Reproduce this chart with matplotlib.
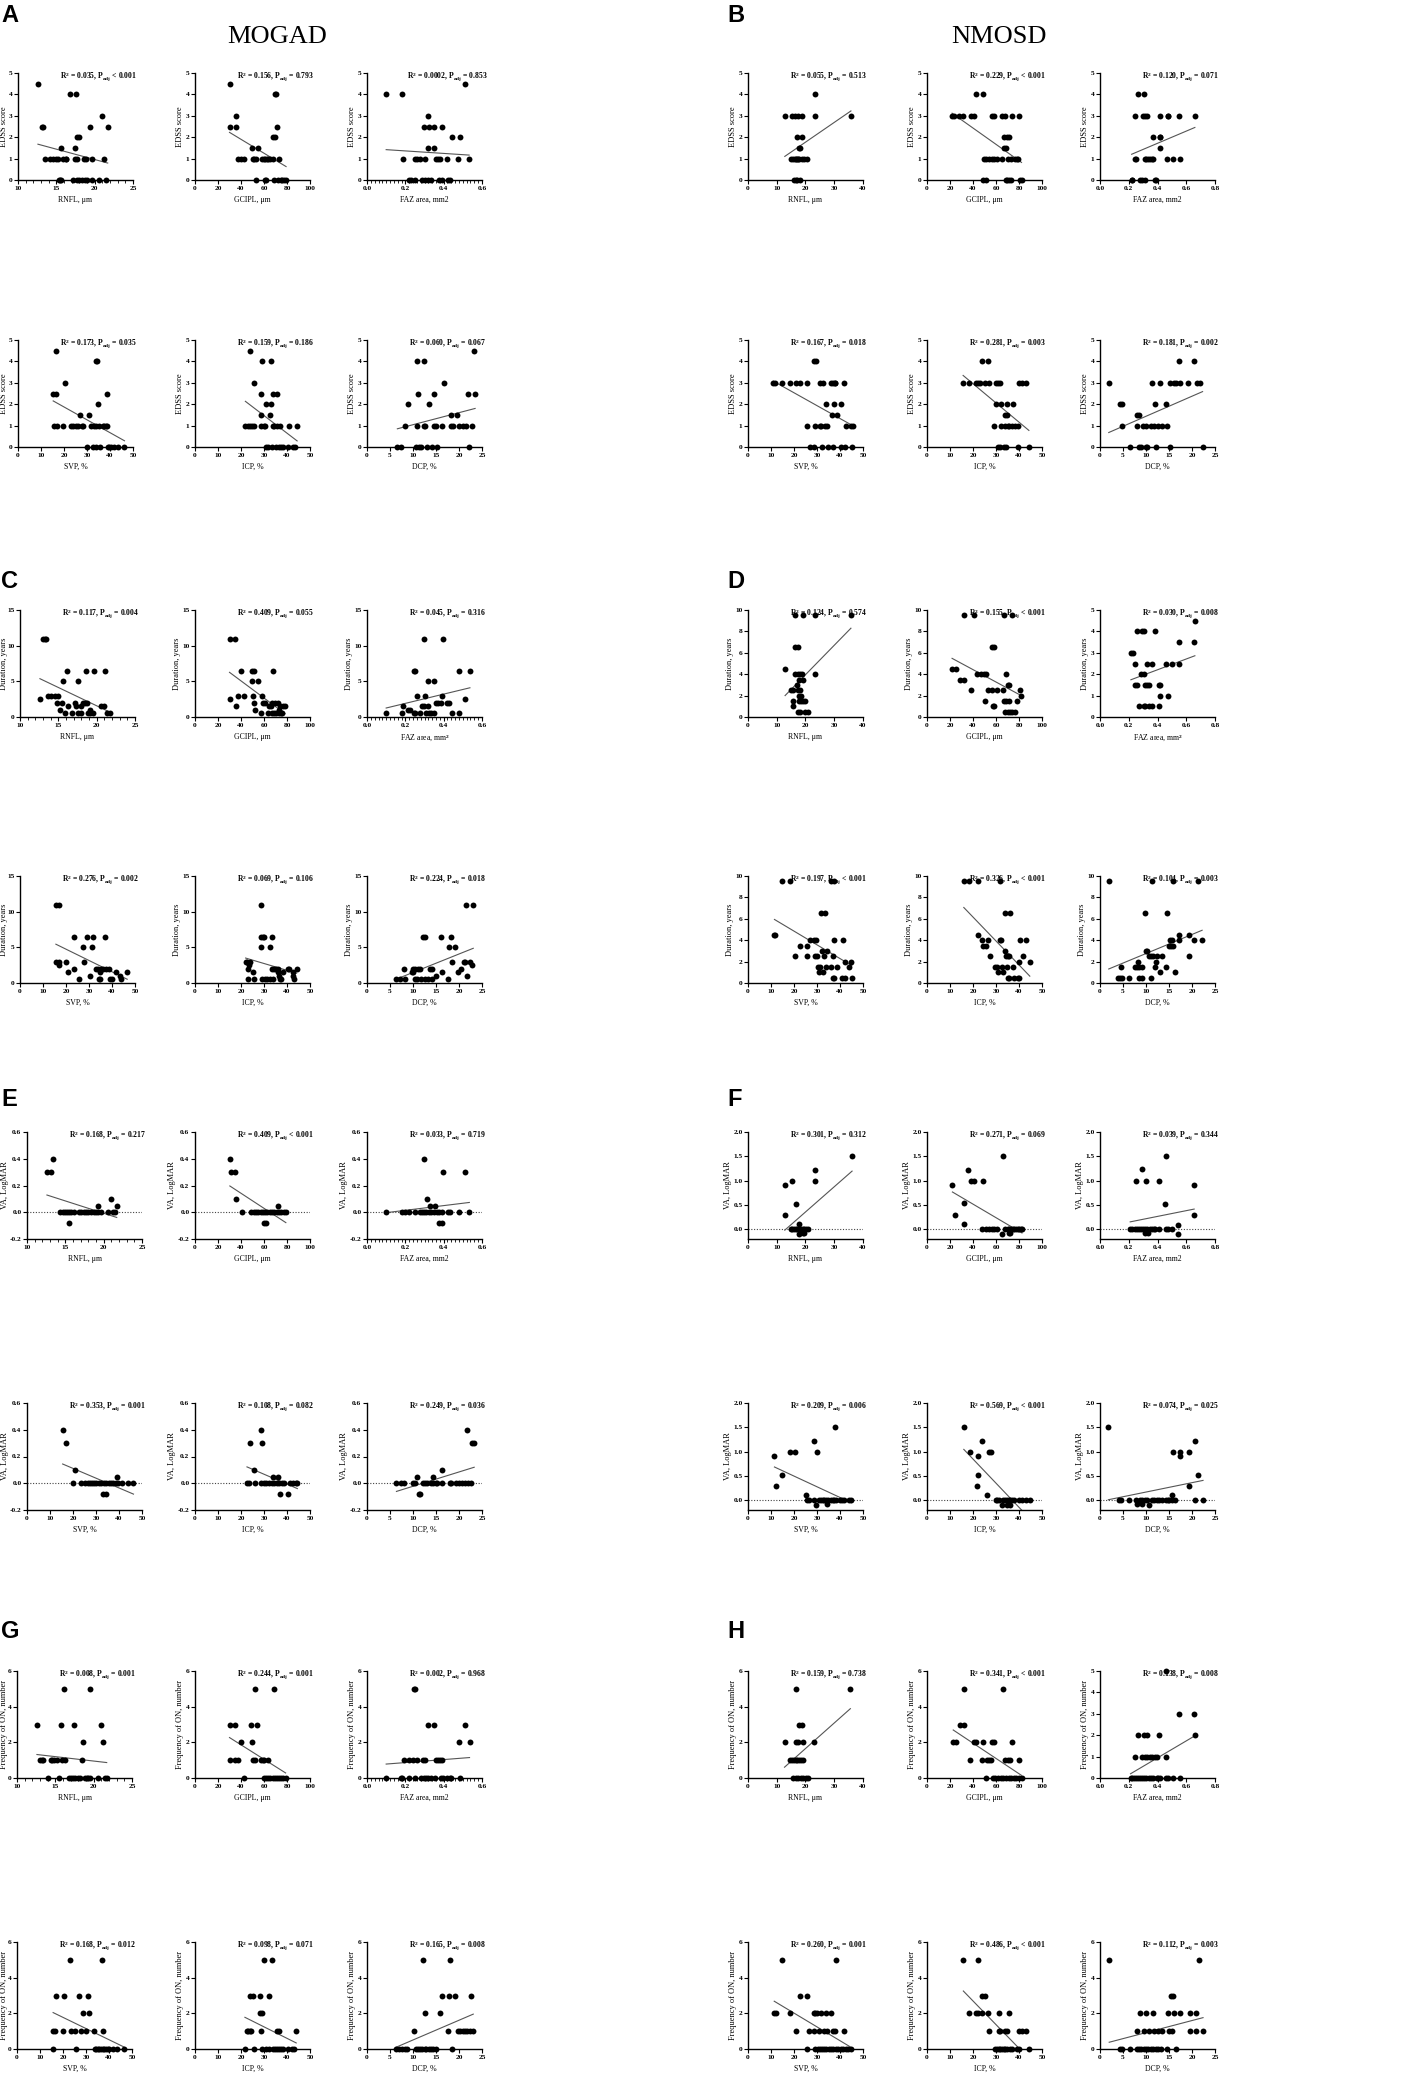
import numpy as np
import matplotlib
matplotlib.use("Agg")
import matplotlib.pyplot as plt
from matplotlib.ticker import MultipleLocator, FormatStrFormatter

plt.rcParams['font.family'] = ['Liberation Serif', 'DejaVu Serif']
plt.rcParams['font.weight'] = 'bold'
plt.rcParams['mathtext.fontset'] = 'custom'
plt.rcParams['mathtext.rm'] = 'Liberation Serif:bold'
plt.rcParams['mathtext.it'] = 'Liberation Serif:bold'
plt.rcParams['mathtext.bf'] = 'Liberation Serif:bold'
plt.rcParams['axes.unicode_minus'] = False

# ---------------- data: (x, y) points ----------------
# A: MOGAD, EDSS score
a_rnfl = [(12.6, 4.5), (13.1, 2.5), (13.3, 2.5), (13.5, 1), (14.2, 1), (14.6, 1), (14.9, 1), (15.2, 1),
          (15.3, 0), (15.5, 0), (15.6, 0), (15.6, 1.5), (15.9, 1), (16.2, 1), (16.3, 1), (16.8, 4),
          (17.2, 0), (17.4, 1.5), (17.4, 1), (17.5, 4), (17.7, 1), (17.7, 2), (17.7, 0), (18.0, 2),
          (18.0, 0), (18.3, 0), (18.6, 1), (18.75, 0), (18.9, 1), (19.0, 0), (19.4, 2.5), (19.6, 1),
          (19.6, 0), (20.5, 0), (21.0, 3), (21.25, 1), (21.5, 0), (21.7, 2.5)]
a_gcipl = [(30.6, 4.5), (30.0, 2.5), (35.6, 2.5), (35.6, 3), (37.5, 1), (40.3, 1), (43.0, 1), (49.4, 1.5),
           (50.0, 1), (51.4, 1), (52.8, 1), (55.0, 1.5), (52.8, 0), (58.3, 1), (59.7, 1), (61.0, 1),
           (62.5, 1), (63.9, 1), (65.3, 1), (68.0, 1), (60.5, 0), (62.0, 0), (68.0, 2), (69.4, 2),
           (69.4, 4), (70.8, 4), (71.7, 2.5), (73.0, 1), (68.9, 0), (72.2, 0), (74.4, 0), (75.8, 0),
           (77.2, 0), (79.2, 0)]
a_faz = [(0.10, 4), (0.18, 4), (0.19, 1), (0.22, 0), (0.227, 0), (0.25, 1), (0.263, 1), (0.275, 1),
         (0.25, 0), (0.287, 0), (0.30, 0), (0.297, 2.5), (0.30, 1), (0.317, 3), (0.317, 1.5), (0.325, 2.5),
         (0.317, 0), (0.333, 0), (0.35, 2.5), (0.35, 1.5), (0.358, 1), (0.37, 1), (0.383, 1), (0.375, 0),
         (0.392, 0), (0.392, 2.5), (0.42, 1), (0.425, 0), (0.433, 0), (0.442, 2), (0.475, 1), (0.483, 2),
         (0.512, 4.5), (0.533, 1)]
a_svp = [(15.3, 2.5), (16.7, 2.5), (16.7, 4.5), (15.8, 1), (16.9, 1), (19.7, 1), (20.4, 3), (23.1, 1),
         (23.8, 1), (25.2, 1), (26.3, 1), (27.7, 1), (28.4, 1), (27.0, 1.5), (30.7, 1.5), (30.0, 0),
         (31.7, 1), (33.0, 1), (33.7, 1), (32.8, 0), (33.7, 0), (33.9, 4), (34.3, 4), (34.6, 2),
         (35.3, 1), (35.8, 0), (36.9, 1), (37.6, 1), (38.3, 1), (38.7, 2.5), (39.0, 0), (39.7, 0),
         (40.4, 0), (41.7, 0), (43.5, 0), (46.3, 0), (38.7, 1)]
a_icp = [(21.9, 1), (22.9, 1), (23.9, 1), (24.7, 1), (25.7, 1), (23.9, 4.5), (25.7, 3), (28.75, 2.5),
         (28.75, 1.5), (29.2, 4), (28.5, 1), (29.9, 1), (30.6, 1), (31.0, 2), (31.0, 0), (31.7, 0),
         (33.0, 4), (33.0, 2), (32.6, 1.5), (34.0, 2.5), (33.7, 1), (34.4, 1), (33.6, 0), (35.8, 2.5),
         (35.8, 1), (36.8, 1), (35.4, 0), (36.4, 0), (37.2, 0), (38.2, 0), (40.3, 0), (41.0, 1),
         (42.8, 0), (43.5, 0), (44.4, 1)]
a_dcp = [(6.6, 0), (7.4, 0), (8.3, 1), (8.9, 2), (10.6, 0), (10.8, 1), (10.8, 4), (11.1, 2.5),
         (11.25, 0), (11.8, 0), (12.4, 4), (12.4, 1), (12.7, 1), (13.05, 0), (13.5, 2), (14.2, 0),
         (14.6, 2.5), (14.6, 1), (15.1, 1), (15.3, 0), (16.7, 3), (16.2, 1), (18.2, 1.5), (18.2, 1),
         (18.75, 1), (19.6, 1.5), (20.1, 1), (20.8, 1), (21.5, 1), (21.9, 2.5), (22.2, 0), (22.8, 1),
         (23.3, 4.5), (23.5, 2.5)]

# B: NMOSD, EDSS score
b_rnfl = [(12.8, 3), (15.2, 3), (16.3, 3), (17.5, 3), (18.7, 3), (14.9, 1), (15.7, 1), (16.3, 1),
          (17.1, 1), (17.8, 1), (18.7, 1), (19.5, 1), (20.4, 1), (16.9, 2), (18.7, 2), (17.8, 1.5),
          (18.1, 1.5), (16.1, 0), (16.7, 0), (17.1, 0), (18.1, 0), (23.3, 4), (23.3, 3), (35.8, 3),
          (16.8, 1), (17.4, 1)]
b_gcipl = [(21.8, 3), (23.9, 3), (27.6, 3), (31.6, 3), (38.2, 3), (41.1, 3), (42.5, 4), (48.3, 4),
           (48.3, 0), (51.7, 0), (49.7, 1), (51.7, 1), (54.0, 1), (56.3, 1), (58.3, 1), (61.2, 1),
           (56.9, 3), (58.3, 3), (65.5, 3), (67.8, 3), (64.9, 1), (67.0, 1.5), (68.4, 1.5), (67.0, 2),
           (69.3, 2), (71.3, 2), (68.4, 0), (69.8, 0), (71.3, 0), (72.7, 0), (70.7, 1), (72.7, 1),
           (76.4, 1), (78.4, 1), (74.1, 3), (79.9, 3), (81.3, 0), (82.2, 0), (79.3, 1)]
b_faz = [(0.24, 3), (0.30, 3), (0.31, 3), (0.33, 3), (0.42, 3), (0.47, 3), (0.475, 3), (0.55, 3),
         (0.66, 3), (0.265, 4), (0.305, 4), (0.37, 2), (0.415, 2), (0.42, 2), (0.42, 1.5), (0.24, 1),
         (0.25, 1), (0.31, 1), (0.32, 1), (0.335, 1), (0.345, 1), (0.36, 1), (0.37, 1), (0.465, 1),
         (0.51, 1), (0.555, 1), (0.22, 0), (0.225, 0), (0.28, 0), (0.295, 0), (0.31, 0), (0.385, 0),
         (0.39, 0)]
b_svp = [(11.0, 3), (11.7, 3), (14.6, 3), (18.3, 3), (20.9, 3), (22.7, 3), (25.6, 3), (31.1, 3),
         (32.6, 3), (36.1, 3), (36.9, 3), (37.7, 3), (38.0, 3), (41.7, 3), (28.5, 4), (29.7, 4),
         (34.0, 2), (37.2, 2), (40.6, 2), (36.5, 1.5), (38.7, 1.5), (25.6, 1), (29.2, 1), (31.1, 1),
         (31.9, 1), (33.6, 1), (34.4, 1), (42.8, 1), (44.9, 1), (45.8, 1), (26.8, 0), (28.5, 0),
         (32.2, 0), (34.6, 0), (37.0, 0), (40.5, 0), (42.1, 0), (45.3, 0)]
b_icp = [(15.7, 3), (18.2, 3), (21.3, 3), (22.1, 3), (23.1, 3), (25.1, 3), (26.9, 3), (29.9, 3),
         (31.0, 3), (31.6, 3), (40.0, 3), (41.5, 3), (43.0, 3), (23.9, 4), (26.6, 4), (29.9, 2),
         (32.1, 2), (34.8, 2), (37.3, 2), (33.9, 1.5), (34.6, 1.5), (29.1, 1), (32.1, 1), (34.0, 1),
         (35.1, 1), (35.8, 1), (36.9, 1), (38.1, 1), (39.6, 1), (31.0, 0), (31.6, 0), (33.6, 0),
         (34.3, 0), (39.6, 0), (44.3, 0)]
b_dcp = [(1.9, 3), (4.3, 2), (4.8, 2), (4.8, 1), (6.6, 0), (8.1, 1.5), (8.4, 1.5), (8.1, 1),
         (8.4, 0), (8.9, 0), (9.4, 1), (10.1, 1), (11.0, 1), (11.7, 1), (12.5, 1), (13.5, 1),
         (9.9, 0), (10.2, 0), (11.3, 3), (12.0, 2), (12.2, 0), (13.1, 3), (14.4, 2), (14.6, 1),
         (15.3, 0), (15.3, 3), (16.0, 3), (16.6, 3), (17.3, 3), (17.1, 4), (19.2, 3), (21.0, 3),
         (21.8, 3), (20.5, 4), (22.3, 0)]

# C: MOGAD, disease duration
c_rnfl = [(12.6, 2.5), (13.0, 11), (13.2, 11), (13.4, 11), (13.6, 3), (14.1, 3), (14.6, 3), (15.0, 3),
          (14.8, 2), (15.2, 1), (15.5, 2), (15.6, 5), (15.9, 0.5), (16.1, 6.5), (16.2, 1.5), (16.8, 0.5),
          (17.2, 2), (17.3, 1.5), (17.5, 5), (17.6, 0.5), (17.9, 0.5), (18.0, 1.5), (18.2, 2), (18.5, 2),
          (18.8, 2), (18.6, 6.5), (18.85, 0.5), (19.1, 0.5), (19.1, 1), (19.5, 0.5), (19.6, 6.5),
          (20.5, 1.5), (20.9, 1.5), (21.1, 6.5), (21.4, 0.5), (21.7, 0.5)]
c_gcipl = [(30.0, 11), (34.7, 11), (30.6, 2.5), (35.6, 1.5), (37.0, 3), (42.5, 3), (40.3, 6.5), (49.2, 6.5),
           (51.4, 6.5), (49.4, 5), (50.0, 3), (51.4, 2), (52.2, 1), (55.0, 5), (57.5, 0.5), (58.3, 3),
           (59.2, 2), (61.1, 2), (63.9, 0.5), (64.7, 1.5), (66.1, 1.5), (68.0, 6.5), (67.2, 2), (69.4, 2),
           (72.2, 2), (66.7, 0.5), (68.9, 0.5), (70.8, 0.5), (73.0, 0.5), (74.4, 0.5), (75.8, 0.5),
           (73.0, 1), (73.6, 1.5), (76.4, 1.5), (78.3, 1.5)]
c_faz = [(0.10, 0.5), (0.18, 0.5), (0.19, 1.5), (0.215, 1), (0.225, 1), (0.245, 6.5), (0.253, 6.5),
         (0.245, 0.5), (0.253, 0.5), (0.26, 3), (0.275, 0.5), (0.287, 1.5), (0.296, 1.5), (0.296, 11),
         (0.30, 3), (0.316, 5), (0.31, 0.5), (0.326, 0.5), (0.335, 0.5), (0.316, 1.5), (0.351, 5),
         (0.351, 0.5), (0.36, 2), (0.372, 2), (0.384, 2), (0.389, 3), (0.394, 11), (0.42, 2), (0.43, 2),
         (0.445, 0.5), (0.478, 6.5), (0.48, 0.5), (0.512, 2.5), (0.537, 6.5)]
c_svp = [(15.6, 11), (16.9, 11), (15.6, 3), (16.9, 3), (16.9, 2.5), (20.0, 3), (20.7, 1.5), (23.4, 6.5),
         (23.6, 2), (25.5, 0.5), (27.3, 5), (28.0, 3), (29.1, 6.5), (30.4, 1), (31.1, 5), (31.7, 6.5),
         (33.2, 2), (33.9, 2), (34.2, 0.5), (34.8, 0.5), (34.8, 1.5), (35.3, 2), (36.0, 2), (36.9, 6.5),
         (37.3, 2), (38.7, 2), (39.0, 0.5), (40.1, 0.5), (41.7, 1.5), (43.4, 1), (43.8, 0.5), (46.6, 1.5)]
c_icp = [(22.0, 3), (22.6, 3), (23.9, 3), (22.9, 2), (23.3, 2.5), (22.9, 0.5), (25.4, 1.5), (25.7, 0.5),
         (28.5, 11), (28.5, 5), (28.5, 6.5), (29.4, 6.5), (30.1, 6.5), (29.2, 0.5), (30.6, 0.5),
         (31.5, 0.5), (32.6, 0.5), (34.0, 0.5), (32.6, 5), (33.3, 6.5), (33.6, 2), (34.4, 2), (35.4, 2),
         (36.1, 2), (36.1, 1.5), (36.4, 1), (36.8, 0.5), (37.5, 0.5), (38.2, 1.5), (40.3, 2), (41.0, 2),
         (42.4, 1.5), (42.8, 1), (43.1, 0.5), (44.2, 2)]
c_dcp = [(6.25, 0.5), (7.2, 0.5), (8.0, 2), (8.3, 0.5), (9.7, 1.5), (10.1, 1.5), (10.1, 2), (10.4, 2),
         (10.4, 0.5), (10.8, 0.5), (11.0, 2), (11.5, 2), (12.2, 6.5), (12.5, 6.5), (11.8, 0.5), (12.5, 0.5),
         (13.2, 0.5), (13.75, 2), (14.1, 2), (14.2, 0.5), (14.9, 1), (16.0, 6.5), (16.3, 1.5), (17.7, 0.5),
         (17.8, 5), (18.2, 6.5), (18.5, 3), (19.2, 5), (19.8, 1.5), (20.5, 2), (21.0, 3), (21.4, 3),
         (21.7, 1), (21.5, 11), (22.4, 3), (22.8, 2.5), (23.1, 11)]

# D: NMOSD, disease duration
d_rnfl = [(12.9, 4.5), (14.9, 2.5), (15.5, 2.5), (15.5, 1.5), (15.8, 1), (16.5, 9.5), (16.5, 4), (17.3, 4),
          (18.1, 4), (16.5, 6.5), (17.3, 6.5), (17.0, 3), (17.3, 2.5), (17.3, 0.5), (18.1, 0.5), (17.7, 3.5),
          (17.9, 2), (18.5, 2), (17.9, 1.5), (18.5, 1.5), (19.1, 1.5), (19.7, 1.5), (18.1, 2.5), (18.9, 4),
          (19.1, 3.5), (19.1, 9.5), (20.0, 0.5), (20.9, 0.5), (23.3, 9.5), (23.3, 4), (35.8, 9.5)]
d_gcipl = [(21.8, 4.5), (24.8, 4.5), (28.4, 3.5), (32.2, 3.5), (32.2, 9.5), (38.2, 2.5), (41.2, 9.5),
           (43.3, 4), (47.2, 4), (49.6, 4), (50.7, 1.5), (51.6, 4), (53.1, 2.5), (56.1, 2.5), (56.1, 6.5),
           (58.2, 6.5), (57.0, 1), (58.5, 1), (61.2, 2.5), (66.0, 2.5), (66.6, 9.5), (66.6, 1.5), (69.0, 1.5),
           (71.0, 1.5), (68.0, 0.5), (70.1, 0.5), (71.9, 0.5), (74.0, 0.5), (76.1, 0.5), (69.0, 4), (70.4, 3),
           (71.0, 3), (74.0, 9.5), (78.5, 1.5), (80.6, 2.5), (82.1, 2)]
d_faz = [(0.215, 3), (0.229, 3), (0.245, 2.5), (0.257, 1.5), (0.24, 1.5), (0.257, 4), (0.273, 0.5),
         (0.287, 2), (0.303, 2), (0.29, 4), (0.303, 4), (0.303, 0.5), (0.31, 0.5), (0.31, 1.5), (0.327, 1.5),
         (0.338, 1.5), (0.327, 2.5), (0.343, 0.5), (0.36, 0.5), (0.36, 2.5), (0.38, 4), (0.408, 0.5),
         (0.413, 1.5), (0.42, 1.5), (0.42, 1), (0.46, 2.5), (0.471, 1), (0.501, 2.5), (0.548, 3.5),
         (0.553, 2.5), (0.653, 3.5), (0.66, 4.5)]
d_svp = [(11.5, 4.5), (11.9, 4.5), (14.9, 9.5), (18.2, 9.5), (20.6, 2.5), (22.7, 3.5), (25.7, 3.5),
         (25.8, 2.5), (26.9, 4), (28.7, 4), (29.6, 4), (29.1, 2.5), (30.1, 2.5), (30.6, 1.5), (31.3, 1.5),
         (31.0, 1), (32.8, 1), (31.8, 6.5), (33.6, 6.5), (32.1, 3), (33.1, 2.5), (34.3, 3), (34.0, 1.5),
         (36.1, 9.5), (37.6, 9.5), (36.1, 1.5), (37.0, 2.5), (37.0, 0.5), (37.3, 0.5), (37.6, 4), (38.5, 1.5),
         (40.7, 0.5), (41.5, 4), (42.1, 2), (42.2, 0.5), (44.0, 1.5), (44.8, 2), (45.1, 0.5)]
d_icp = [(16.0, 9.5), (18.3, 9.5), (22.1, 9.5), (22.1, 4.5), (23.9, 4), (24.4, 3.5), (25.5, 3.5), (26.7, 4),
         (27.4, 2.5), (29.4, 1.5), (30.5, 1.5), (30.8, 1), (31.6, 9.5), (31.6, 4), (32.0, 4), (32.5, 1.5),
         (33.2, 1), (33.8, 6.5), (34.0, 3), (34.3, 2.5), (35.1, 2.5), (35.8, 2.5), (34.6, 1.5), (35.1, 0.5),
         (35.5, 0.5), (36.1, 6.5), (37.3, 1.5), (37.7, 0.5), (39.6, 0.5), (40.1, 0.5), (40.1, 2), (40.4, 4),
         (41.6, 2.5), (43.1, 4), (44.7, 2)]
d_dcp = [(1.9, 9.5), (4.0, 0.5), (4.4, 0.5), (4.7, 0.5), (4.6, 1.5), (6.4, 0.5), (7.6, 1.5), (8.0, 1.5),
         (8.3, 2), (8.5, 1.5), (8.5, 0.5), (9.1, 0.5), (9.2, 1.5), (9.8, 6.5), (10.0, 3), (10.2, 3),
         (10.6, 2.5), (11.1, 2.5), (11.6, 2.5), (11.1, 0.5), (11.3, 9.5), (11.9, 1.5), (12.1, 2), (12.4, 2.5),
         (13.0, 1), (13.4, 2.5), (14.3, 1.5), (14.5, 6.5), (15.1, 3.5), (15.5, 3.5), (15.8, 3.5), (15.2, 4),
         (15.6, 4), (15.8, 9.5), (16.4, 1), (17.1, 4), (17.1, 4.5), (19.4, 4.5), (19.4, 2.5), (20.5, 4),
         (21.2, 9.5), (22.2, 4)]

# E: MOGAD, visual acuity
e_rnfl = [(12.6, 0.3), (13.1, 0.3), (13.4, 0.4), (14.35, 0), (14.7, 0), (14.9, 0), (15.2, 0), (15.5, 0),
          (15.8, 0), (16.1, 0), (15.5, -0.08), (16.8, 0), (17.1, 0), (17.4, 0), (17.7, 0), (18.0, 0),
          (18.3, 0), (18.7, 0), (19.0, 0), (19.3, 0), (19.6, 0), (19.3, 0.05), (20.5, 0), (21.0, 0.1),
          (21.2, 0), (21.5, 0), (21.7, 0.05)]
e_gcipl = [(30.3, 0.4), (30.9, 0.3), (34.7, 0.3), (35.6, 0.1), (40.7, 0), (49, 0), (51, 0), (53, 0),
           (55, 0), (57, 0), (59, 0), (61, 0), (63, 0), (65, 0), (67, 0), (69, 0), (71, 0), (73, 0),
           (75, 0), (77, 0), (79, 0), (59.9, -0.08), (61.4, -0.08), (71.8, 0.05)]
e_faz = [(0.10, 0), (0.18, 0), (0.196, 0), (0.22, 0), (0.25, 0), (0.274, 0), (0.285, 0), (0.297, 0),
         (0.31, 0), (0.324, 0), (0.336, 0), (0.35, 0), (0.363, 0), (0.377, 0), (0.39, 0), (0.297, 0.4),
         (0.315, 0.1), (0.328, 0.05), (0.354, 0.05), (0.377, -0.08), (0.392, -0.08), (0.395, 0.3),
         (0.422, 0), (0.434, 0), (0.48, 0), (0.511, 0.3), (0.534, 0)]
e_svp = [(15.5, 0.4), (16.9, 0.3), (19.9, 0), (20.7, 0.1), (23.5, 0), (25.4, 0), (26.4, 0), (27.3, 0),
         (28.3, 0), (29.3, 0), (30.2, 0), (31.2, 0), (32.3, 0), (33.4, 0), (34.5, 0), (35.6, 0), (36.6, 0),
         (37.5, 0), (38.6, 0), (39.6, 0), (41.5, 0), (43.7, 0), (46.3, 0), (33.1, -0.08), (34.2, -0.08),
         (39.0, 0.05)]
e_icp = [(22.6, 0), (23.6, 0), (26.0, 0), (24.0, 0.3), (25.5, 0.1), (28.9, 0.4), (29.2, 0.3), (28.5, 0),
         (30.0, 0), (31.0, 0), (32.2, 0), (33.4, 0), (34.4, 0), (35.5, 0), (36.6, 0), (37.8, 0), (38.9, 0),
         (34.0, 0.05), (35.9, 0.05), (37.0, -0.08), (40.4, -0.08), (41.1, 0), (42.6, 0), (43.8, 0), (44.5, 0)]
e_dcp = [(6.4, 0), (7.35, 0), (8.1, 0), (9.9, 0), (10.4, 0), (10.9, 0.05), (11.2, -0.08), (11.6, -0.08),
         (12.1, 0), (12.5, 0), (13.0, 0), (14.0, 0), (14.3, 0), (14.9, 0), (15.3, 0), (14.3, 0.05), (16.2, 0),
         (16.4, 0.1), (18.0, 0), (18.2, 0), (19.3, 0), (20.1, 0), (20.6, 0), (21.2, 0), (21.9, 0), (22.6, 0),
         (21.7, 0.4), (22.8, 0.3), (23.3, 0.3)]

# F: NMOSD, visual acuity
f_rnfl = [(12.8, 0.3), (12.8, 0.92), (15.4, 1.0), (16.6, 0.52), (14.8, 0), (15.4, 0), (16.0, 0), (16.6, 0),
          (17.2, 0), (17.8, 0), (18.4, 0), (19.0, 0), (19.6, 0), (20.2, 0), (20.8, 0), (17.8, 0.1),
          (17.8, -0.1), (19.0, -0.08), (19.6, -0.08), (23.4, 1.22), (23.4, 1.0), (36.2, 1.5)]
f_gcipl = [(22.1, 0.92), (24.4, 0.3), (31.8, 0.1), (32.4, 0.53), (35.3, 1.22), (38.2, 1.0), (41.2, 1.0),
           (48.8, 1.0), (47.9, 0), (51.5, 0), (53.8, 0), (56.2, 0), (58.2, 0), (61.2, 0), (65.6, -0.1),
           (66.2, 1.5), (68.0, 0), (70.0, 0), (71.5, 0), (72.9, 0), (74.4, 0), (75.9, 0), (77.4, 0),
           (78.8, 0), (80.3, 0), (81.8, 0), (82.6, 0), (70.9, -0.08), (72.4, -0.08)]
f_faz = [(0.21, 0), (0.225, 0), (0.24, 0), (0.255, 0), (0.27, 0), (0.285, 0), (0.30, 0), (0.315, 0),
         (0.33, 0), (0.345, 0), (0.36, 0), (0.375, 0), (0.385, 0), (0.253, 1.0), (0.292, 1.23), (0.32, 1.0),
         (0.316, -0.08), (0.335, -0.08), (0.41, 1.0), (0.41, 0), (0.45, 0.52), (0.456, 1.5), (0.46, 0),
         (0.475, 0), (0.50, 0), (0.545, 0.09), (0.545, -0.1), (0.655, 0.3), (0.655, 0.92)]
f_svp = [(11.5, 0.92), (12.1, 0.3), (14.7, 0.52), (18.1, 1.0), (20.6, 1.0), (25.4, 0.1), (25.7, 0),
         (26.5, 0), (28.7, 0), (30.9, 0), (31.6, 0), (32.4, 0), (33.1, 0), (33.8, 0), (34.6, 0), (36.0, 0),
         (36.8, 0), (37.5, 0), (38.2, 0), (40.1, 0), (40.9, 0), (41.9, 0), (44.1, 0), (44.9, 0), (28.7, 1.22),
         (29.9, 1.0), (29.6, -0.1), (34.3, -0.08), (37.9, 1.5)]
f_icp = [(16.0, 1.5), (18.5, 1.0), (22.3, 0.92), (22.2, 0.52), (21.9, 0.3), (24.1, 1.22), (25.9, 0.1),
         (26.9, 1.0), (27.7, 1.0), (29.9, 0), (30.6, 0), (31.5, 0), (33.0, 0), (34.0, 0), (34.8, 0),
         (35.5, 0), (36.2, 0), (37.0, 0), (37.7, 0), (39.9, 0), (41.4, 0), (42.9, 0), (44.8, 0),
         (32.5, -0.1), (34.8, -0.1), (35.9, -0.1)]
f_dcp = [(1.8, 1.5), (4.2, 0), (4.6, 0), (6.4, 0), (7.9, 0), (8.6, 0), (9.1, 0), (9.7, 0), (10.3, 0),
         (8.0, -0.08), (9.2, -0.08), (10.7, -0.1), (11.2, 0), (11.8, 0), (12.3, 0), (12.8, 0), (13.4, 0),
         (14.3, 0), (14.7, 0), (15.1, 0), (15.6, 0), (16.4, 0), (15.6, 0.1), (15.9, 1.0), (17.3, 1.0),
         (17.3, 0.92), (19.3, 1.0), (19.3, 0.3), (20.6, 1.22), (20.6, 0), (21.4, 0.52), (22.4, 0)]

# G: MOGAD, frequency of ON
g_rnfl = [(12.6, 3), (13.0, 1), (13.2, 1), (13.4, 1), (14.1, 0), (14.4, 1), (14.6, 1), (14.8, 1),
          (15.2, 1), (15.5, 0), (15.7, 3), (15.9, 1), (16.2, 1), (16.1, 5), (16.8, 0), (17.1, 0),
          (17.3, 0), (17.6, 0), (17.9, 0), (18.2, 0), (17.4, 3), (18.6, 2), (18.5, 1), (18.9, 0),
          (19.1, 0), (19.3, 0), (19.5, 0), (19.5, 5), (20.5, 0), (21.0, 3), (21.2, 2), (21.45, 0), (21.7, 0)]
g_gcipl = [(30.0, 3), (30.0, 1), (34.8, 3), (34.8, 1), (37.1, 1), (40.0, 2), (42.5, 0), (49.0, 3),
           (49.6, 2), (50.4, 1), (51.8, 1), (51.8, 5), (54.1, 3), (57.5, 1), (58.9, 1), (60.3, 1),
           (59.8, 0), (61.8, 0), (63.2, 0), (65.4, 0), (67.4, 0), (69.4, 0), (71.1, 0), (73.1, 0),
           (75.1, 0), (76.8, 0), (78.8, 0), (63.7, 1), (68.3, 5)]
g_faz = [(0.10, 0), (0.175, 0), (0.183, 0), (0.195, 1), (0.218, 0), (0.221, 1), (0.238, 1), (0.26, 1),
         (0.243, 5), (0.252, 5), (0.252, 0), (0.29, 1), (0.30, 1), (0.283, 0), (0.295, 0), (0.307, 0),
         (0.32, 0), (0.334, 0), (0.317, 3), (0.351, 3), (0.355, 0), (0.358, 1), (0.369, 1), (0.381, 1),
         (0.389, 1), (0.386, 0), (0.398, 0), (0.42, 0), (0.432, 0), (0.44, 0), (0.478, 2), (0.483, 0),
         (0.509, 3), (0.535, 2)]
g_svp = [(15.7, 0), (15.7, 1), (16.7, 1), (17.0, 3), (19.8, 1), (20.5, 3), (23.1, 5), (23.4, 1),
         (25.2, 1), (25.6, 0), (26.9, 3), (27.8, 1), (28.8, 2), (30.2, 1), (30.9, 3), (31.3, 2), (33.3, 1),
         (33.7, 0), (34.4, 0), (35.1, 0), (35.8, 0), (36.5, 0), (37.3, 0), (38.0, 0), (38.7, 0), (39.4, 0),
         (40.1, 0), (41.8, 0), (43.6, 0), (46.5, 0), (36.8, 5), (37.5, 1)]
g_icp = [(21.7, 0), (22.4, 1), (23.1, 1), (23.8, 1), (24.5, 1), (23.8, 3), (25.2, 3), (25.6, 0),
         (28.3, 3), (28.3, 2), (29.0, 2), (28.5, 1), (29.2, 0), (30.9, 0), (32.3, 0), (33.7, 0), (34.7, 0),
         (35.6, 0), (36.5, 0), (37.5, 0), (38.4, 0), (40.4, 0), (42.2, 0), (42.9, 0), (30.2, 5), (32.3, 3),
         (33.4, 5), (35.8, 1), (36.5, 1), (44.0, 1)]
g_dcp = [(6.3, 0), (7.0, 0), (7.7, 0), (8.2, 0), (8.7, 0), (10.2, 1), (10.6, 0), (11.1, 0), (11.5, 0),
         (12.0, 0), (12.5, 0), (12.9, 0), (13.4, 0), (13.9, 0), (14.4, 0), (15.0, 0), (12.1, 5), (12.5, 2),
         (15.8, 2), (16.4, 3), (17.7, 1), (17.8, 3), (18.1, 5), (18.5, 0), (19.2, 3), (19.7, 1), (20.2, 1),
         (20.8, 1), (21.3, 1), (21.8, 1), (22.3, 1), (23.1, 1), (22.7, 3)]

# H: NMOSD, frequency of ON
h_rnfl = [(12.7, 2), (14.7, 1), (15.3, 1), (15.9, 1), (16.6, 1), (17.2, 1), (17.8, 1), (18.4, 1),
          (19.0, 1), (16.6, 5), (16.6, 2), (17.4, 2), (17.8, 3), (18.9, 3), (19.0, 2), (15.7, 0),
          (16.6, 0), (17.4, 0), (18.3, 0), (19.0, 0), (20.2, 0), (20.8, 0), (23.1, 2), (35.6, 5)]
h_gcipl = [(22.8, 2), (24.9, 2), (28.8, 3), (31.8, 3), (32.6, 5), (37.7, 1), (40.7, 2), (43.0, 2),
           (48.1, 1), (48.7, 2), (51.0, 0), (51.9, 1), (54.0, 1), (55.5, 1), (56.4, 2), (57.9, 2),
           (57.0, 0), (59.0, 0), (61.4, 0), (64.4, 0), (66.5, 0), (68.8, 0), (71.2, 0), (73.3, 0),
           (75.4, 0), (77.7, 0), (80.1, 0), (82.2, 0), (66.5, 5), (68.2, 1), (70.3, 1), (71.8, 1),
           (74.2, 2), (80.1, 1)]
h_faz = [(0.2125, 0), (0.225, 0), (0.2375, 0), (0.25, 0), (0.2625, 0), (0.275, 0), (0.2925, 0),
         (0.305, 0), (0.32, 0), (0.3375, 0), (0.355, 0), (0.37, 0), (0.395, 0), (0.405, 0), (0.42, 0),
         (0.4625, 0), (0.475, 0), (0.5075, 0), (0.5575, 0), (0.245, 1), (0.2625, 2), (0.295, 1),
         (0.3125, 1), (0.325, 1), (0.345, 1), (0.3625, 1), (0.38, 1), (0.395, 1), (0.305, 2), (0.325, 2),
         (0.4125, 2), (0.4625, 5), (0.4625, 1), (0.55, 3), (0.655, 3), (0.6625, 2)]
h_svp = [(11.4, 2), (12.2, 2), (14.8, 5), (18.4, 2), (20.8, 1), (22.8, 3), (25.8, 3), (25.8, 0),
         (26.7, 1), (28.5, 2), (29.2, 2), (30.0, 2), (28.8, 1), (29.2, 0), (30.3, 0), (31.2, 0), (32.2, 0),
         (33.2, 0), (34.1, 0), (35.2, 0), (36.2, 0), (37.1, 0), (38.1, 0), (39.2, 0), (40.4, 0), (41.5, 0),
         (42.6, 0), (43.6, 0), (44.8, 0), (30.7, 1), (31.8, 2), (34.1, 2), (36.2, 2), (33.2, 1), (34.4, 1),
         (37.1, 1), (37.7, 1), (38.1, 5), (41.8, 1)]
h_icp = [(15.8, 5), (18.2, 2), (22.0, 5), (21.5, 2), (22.3, 2), (23.8, 3), (25.3, 3), (23.8, 2),
         (26.5, 2), (27.1, 1), (29.5, 0), (30.3, 0), (31.1, 0), (31.8, 0), (32.6, 0), (33.3, 0), (34.1, 0),
         (34.8, 0), (35.9, 0), (37.0, 0), (39.2, 0), (40.0, 0), (44.2, 0), (31.4, 2), (31.1, 1), (31.8, 1),
         (34.1, 1), (34.8, 1), (35.5, 2), (40.0, 1), (41.5, 1), (43.0, 1)]
h_dcp = [(2.0, 5), (4.4, 0), (4.8, 0), (6.5, 0), (8.0, 1), (8.0, 0), (8.4, 0), (9.0, 0), (9.5, 0),
         (10.0, 0), (10.4, 0), (11.0, 0), (11.5, 0), (12.1, 0), (12.7, 0), (13.2, 0), (14.6, 0), (16.6, 0),
         (8.7, 2), (9.5, 1), (10.0, 2), (10.7, 1), (11.5, 2), (11.7, 1), (12.5, 1), (13.4, 1), (14.7, 2),
         (15.1, 1), (15.7, 1), (15.4, 3), (15.8, 3), (16.0, 2), (17.3, 2), (19.6, 2), (20.8, 2), (19.6, 1),
         (20.8, 1), (21.6, 5), (22.4, 1)]

# R^2 and adjusted P printed on each plot (RNFL, GCIPL, FAZ, SVP, ICP, DCP)
a_stats = [('0.035', '<', '0.001'), ('0.156', '=', '0.793'), ('0.0002', '=', '0.853'),
           ('0.173', '=', '0.035'), ('0.159', '=', '0.186'), ('0.060', '=', '0.067')]
b_stats = [('0.055', '=', '0.513'), ('0.229', '<', '0.001'), ('0.120', '=', '0.071'),
           ('0.167', '=', '0.018'), ('0.281', '=', '0.003'), ('0.181', '=', '0.002')]
c_stats = [('0.117', '=', '0.004'), ('0.409', '=', '0.055'), ('0.045', '=', '0.316'),
           ('0.276', '=', '0.002'), ('0.069', '=', '0.106'), ('0.224', '=', '0.018')]
d_stats = [('0.124', '=', '0.574'), ('0.155', '<', '0.001'), ('0.030', '=', '0.008'),
           ('0.197', '<', '0.001'), ('0.326', '<', '0.001'), ('0.104', '=', '0.003')]
e_stats = [('0.168', '=', '0.217'), ('0.409', '<', '0.001'), ('0.033', '=', '0.719'),
           ('0.353', '=', '0.001'), ('0.108', '=', '0.082'), ('0.249', '=', '0.036')]
f_stats = [('0.301', '=', '0.312'), ('0.271', '=', '0.069'), ('0.039', '=', '0.344'),
           ('0.209', '=', '0.006'), ('0.569', '<', '0.001'), ('0.074', '=', '0.025')]
g_stats = [('0.008', '=', '0.001'), ('0.244', '=', '0.001'), ('0.002', '=', '0.968'),
           ('0.168', '=', '0.012'), ('0.098', '=', '0.071'), ('0.165', '=', '0.008')]
h_stats = [('0.159', '=', '0.738'), ('0.341', '<', '0.001'), ('0.138', '=', '0.008'),
           ('0.260', '=', '0.001'), ('0.486', '<', '0.001'), ('0.112', '=', '0.003')]

x_labels = ['RNFL, μm', 'GCIPL, μm', 'FAZ area, mm2', 'SVP, %', 'ICP, %', 'DCP, %']
# x axis: (min, max, major step, minor step)
x_axes_mogad = [(10, 25, 5, 1), (0, 100, 20, None), (0, 0.6, 0.2, 0.02),
                (0, 50, 10, None), (0, 50, 10, None), (0, 25, 5, None)]
x_axes_nmosd = [(0, 40, 10, None), (0, 100, 20, None), (0, 0.8, 0.2, None),
                (0, 50, 10, None), (0, 50, 10, None), (0, 25, 5, None)]

# y axis: (ylabel, ylim, ticks, format)
edss_y = ('EDSS score', (0, 5), [0, 1, 2, 3, 4, 5], '%g')
dur_m_y = ('Duration, years', (0, 15), [0, 5, 10, 15], '%g')
dur_n_y = ('Duration, years', (0, 10), [0, 2, 4, 6, 8, 10], '%g')
dur_n_faz_y = ('Duration, years', (0, 5), [0, 1, 2, 3, 4, 5], '%g')
va_m_y = ('VA, LogMAR', (-0.2, 0.6), [-0.2, 0.0, 0.2, 0.4, 0.6], '%.1f')
va_n_y = ('VA, LogMAR', (-0.2, 2.0), [0.0, 0.5, 1.0, 1.5, 2.0], '%.1f')
freq_y = ('Frequency of ON, number', (0, 6), [0, 2, 4, 6], '%g')
freq_n_faz_y = ('Frequency of ON, number', (0, 5), [0, 1, 2, 3, 4, 5], '%g')

# ---------------- layout (pixels of the 1418 x 2079 canvas) ----------------
W, H = 1418, 2079
first_col_left = [18, 20, 27, 17]          # left panels, first column, per block
col_left = {'L': [None, 195, 367], 'R': [748, 927, 1100]}
col_w = {'L': 115, 'R': 115}
row_top = [73, 340, 610, 876, 1132, 1403, 1671, 1942]
ax_h = 107
letter_y = [16, 582, 1099, 1631]
letter_x = {'L': 1, 'R': 727}

panels = [
    ('A', 'L', 0, [a_rnfl, a_gcipl, a_faz, a_svp, a_icp, a_dcp], a_stats, [edss_y] * 6, False),
    ('B', 'R', 0, [b_rnfl, b_gcipl, b_faz, b_svp, b_icp, b_dcp], b_stats, [edss_y] * 6, False),
    ('C', 'L', 1, [c_rnfl, c_gcipl, c_faz, c_svp, c_icp, c_dcp], c_stats, [dur_m_y] * 6, False),
    ('D', 'R', 1, [d_rnfl, d_gcipl, d_faz, d_svp, d_icp, d_dcp], d_stats,
     [dur_n_y, dur_n_y, dur_n_faz_y, dur_n_y, dur_n_y, dur_n_y], False),
    ('E', 'L', 2, [e_rnfl, e_gcipl, e_faz, e_svp, e_icp, e_dcp], e_stats, [va_m_y] * 6, True),
    ('F', 'R', 2, [f_rnfl, f_gcipl, f_faz, f_svp, f_icp, f_dcp], f_stats, [va_n_y] * 6, True),
    ('G', 'L', 3, [g_rnfl, g_gcipl, g_faz, g_svp, g_icp, g_dcp], g_stats, [freq_y] * 6, False),
    ('H', 'R', 3, [h_rnfl, h_gcipl, h_faz, h_svp, h_icp, h_dcp], h_stats,
     [freq_y, freq_y, freq_n_faz_y, freq_y, freq_y, freq_y], False),
]

fig = plt.figure(figsize=(W / 100, H / 100), dpi=100)

for letter, side, block, datasets, stats, ycfgs, zero_line in panels:
    fig.text(letter_x[side] / W, 1 - letter_y[block] / H, letter, ha='left', va='center',
             fontsize=17, family='Liberation Sans', weight='bold')
    xcfgs = x_axes_mogad if side == 'L' else x_axes_nmosd
    for i in range(6):
        r, c = divmod(i, 3)
        top = row_top[2 * block + r]
        left = col_left[side][c]
        if left is None:
            left = first_col_left[block]
        ax = fig.add_axes([left / W, 1 - (top + ax_h) / H, col_w[side] / W, ax_h / H])
        x, y = np.array(datasets[i], dtype=float).T
        xmin, xmax, xstep, xminor = xcfgs[i]
        ylabel, ylim, yticks, yfmt = ycfgs[i]

        if zero_line:
            ax.axhline(0, color='#444444', lw=0.8, ls=(0, (1, 1.5)), zorder=1)
        k, b = np.polyfit(x, y, 1)
        xs = np.array([x.min(), x.max()])
        ax.plot(xs, k * xs + b, color='#555555', lw=0.8, zorder=2)
        ax.scatter(x, y, s=18, color='black', linewidths=0, zorder=3, clip_on=False)

        ax.set_xlim(xmin, xmax)
        ax.set_ylim(*ylim)
        ax.xaxis.set_major_locator(MultipleLocator(xstep))
        if xminor:
            ax.xaxis.set_minor_locator(MultipleLocator(xminor))
        ax.xaxis.set_major_formatter(FormatStrFormatter('%.1f' if xstep < 1 else '%g'))
        ax.set_yticks(yticks)
        ax.yaxis.set_major_formatter(FormatStrFormatter(yfmt))

        for s in ['top', 'right']:
            ax.spines[s].set_visible(False)
        for s in ['left', 'bottom']:
            ax.spines[s].set_linewidth(1.0)
        ax.tick_params(which='major', direction='out', length=3, width=0.8, labelsize=5.3, pad=1)
        ax.tick_params(which='minor', direction='out', length=1.8, width=0.6)

        xl = x_labels[i]
        if i == 2 and letter in ('C', 'D'):
            xl = 'FAZ area, mm$^2$'
        ax.set_xlabel(xl, fontsize=5.6, labelpad=4)
        ax.set_ylabel(ylabel, fontsize=6, labelpad=1)
        if side == 'L' and c == 0:
            # keep the first-column label inside the canvas, right edge ~8.5 px from the border
            ax.yaxis.set_label_coords((8.5 - left) / col_w[side], 0.5)

        r2, rel, p = stats[i]
        ax.text(0.7, 0.97, f'R$^2$ = {r2}, P$_{{adj}}$ {rel} {p}', transform=ax.transAxes,
                ha='center', va='center', fontsize=5.5)

fig.text(277 / W, 1 - 37 / H, 'MOGAD', ha='center', va='center', fontsize=19,
         family='Liberation Serif', weight='normal')
fig.text(999 / W, 1 - 37 / H, 'NMOSD', ha='center', va='center', fontsize=19,
         family='Liberation Serif', weight='normal')

fig.savefig('out.png', dpi=100)
